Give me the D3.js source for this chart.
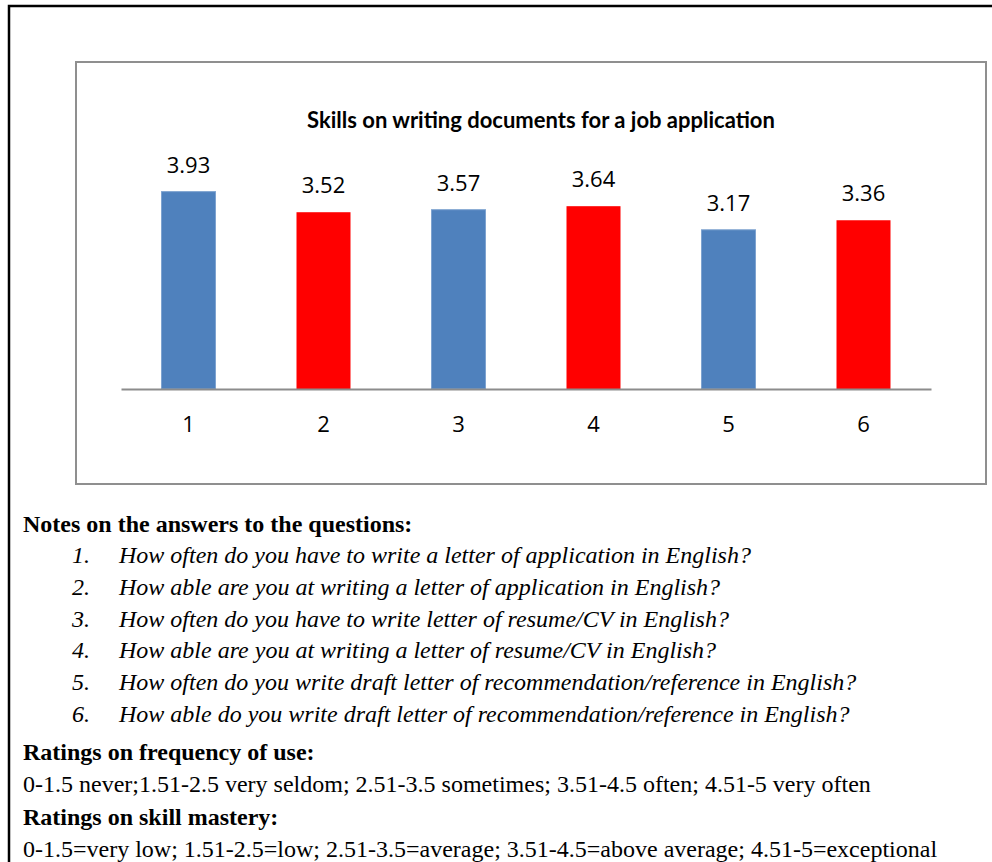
<!DOCTYPE html>
<html>
<head>
<meta charset="utf-8">
<script src="https://cdn.jsdelivr.net/npm/d3@7"></script>
<style>
  html, body { margin: 0; padding: 0; background: #fff; }
  svg { display: block; }
</style>
</head>
<body>
<script>
// Survey results: mean scores per question
const categories = ["1", "2", "3", "4", "5", "6"];
const values = [3.93, 3.52, 3.57, 3.64, 3.17, 3.36];
const barColors = ["#4F81BD", "#FF0000", "#4F81BD", "#FF0000", "#4F81BD", "#FF0000"];
const chartTitle = "Skills on writing documents for a job application";

const notesHeading = "Notes on the answers to the questions:";
const questions = [
  "How often do you have to write a letter of application in English?",
  "How able are you at writing a letter of application in English?",
  "How often do you have to write letter of resume/CV in English?",
  "How able are you at writing a letter of resume/CV in English?",
  "How often do you write draft letter of recommendation/reference in English?",
  "How able do you write draft letter of recommendation/reference in English?"
];
const ratingBlocks = [
  { heading: "Ratings on frequency of use:",
    text: "0-1.5 never;1.51-2.5 very seldom; 2.51-3.5 sometimes; 3.51-4.5 often; 4.51-5 very often" },
  { heading: "Ratings on skill mastery:",
    text: "0-1.5=very low; 1.51-2.5=low; 2.51-3.5=average; 3.51-4.5=above average; 4.51-5=exceptional" }
];

const W = 992, H = 862;
const svg = d3.select("body").append("svg").attr("width", W).attr("height", H);

// outer page box (runs off the right and bottom edges)
svg.append("rect")
  .attr("x", 9).attr("y", 6).attr("width", 1100).attr("height", 1000)
  .attr("fill", "none").attr("stroke", "#000").attr("stroke-width", 2.5);

// chart area frame
svg.append("rect")
  .attr("x", 76).attr("y", 62).attr("width", 910).attr("height", 422)
  .attr("fill", "#fff").attr("stroke", "#8f8f8f").attr("stroke-width", 2);

// scales
const x = d3.scaleBand().domain(categories).range([121, 931]).paddingInner(0.6).paddingOuter(0.3);
const y = d3.scaleLinear().domain([0, 4.5]).range([389, 163]);

const plot = svg.append("g");

// title
plot.append("text")
  .attr("x", 541).attr("y", 128)
  .attr("text-anchor", "middle")
  .attr("font-family", "Lato, 'Open Sans', sans-serif")
  .attr("font-weight", "bold")
  .attr("font-size", 22)
  .attr("fill", "#000")
  .text(chartTitle);

// bars
plot.selectAll("rect.bar")
  .data(values)
  .join("rect")
  .attr("class", "bar")
  .attr("x", (d, i) => x(categories[i]))
  .attr("y", d => y(d))
  .attr("width", x.bandwidth())
  .attr("height", d => y(0) - y(d))
  .attr("fill", (d, i) => barColors[i])
  .attr("stroke", (d, i) => barColors[i] === "#4F81BD" ? "#7ea3d0" : "none")
  .attr("stroke-width", 1);

// value labels
plot.selectAll("text.val")
  .data(values)
  .join("text")
  .attr("class", "val")
  .attr("x", (d, i) => x(categories[i]) + x.bandwidth() / 2)
  .attr("y", d => y(d) - 19)
  .attr("text-anchor", "middle")
  .attr("font-family", "'Open Sans', sans-serif")
  .attr("font-size", 22)
  .attr("fill", "#000")
  .text(d => d.toFixed(2));

// category axis
const xAxis = d3.axisBottom(x).tickSize(0).tickPadding(27);
const gx = plot.append("g").attr("transform", `translate(0,${y(0)})`).call(xAxis);
gx.select(".domain").attr("stroke", "#8c8c8c").attr("stroke-width", 2);
gx.selectAll(".tick text")
  .attr("font-family", "'Open Sans', sans-serif")
  .attr("font-size", 22)
  .attr("fill", "#000");

// notes below the chart
const notes = svg.append("g")
  .attr("font-family", "'Liberation Serif', 'Times New Roman', serif")
  .attr("font-size", 24)
  .attr("fill", "#000");

notes.append("text").attr("x", 23).attr("y", 532)
  .attr("font-weight", "bold").text(notesHeading);

const qLines = notes.selectAll("g.q").data(questions).join("g").attr("class", "q")
  .attr("font-style", "italic");
qLines.append("text").attr("x", 72).attr("y", (d, i) => 563 + i * 31.8).text((d, i) => (i + 1) + ".");
qLines.append("text").attr("x", 119).attr("y", (d, i) => 563 + i * 31.8).text(d => d);

ratingBlocks.forEach((b, i) => {
  const base = 760 + i * 65;
  notes.append("text").attr("x", 23).attr("y", base).attr("font-weight", "bold").text(b.heading);
  notes.append("text").attr("x", 23).attr("y", base + 32).text(b.text);
});
</script>
</body>
</html>
